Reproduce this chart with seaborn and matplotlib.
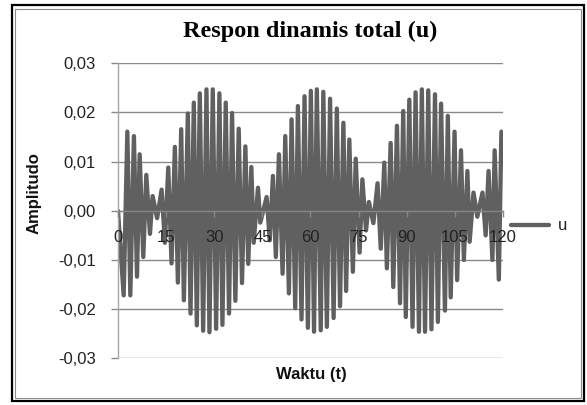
import numpy as np
import pandas as pd
import matplotlib
matplotlib.use("Agg")
import matplotlib.pyplot as plt
from matplotlib.patches import Rectangle
import seaborn as sns

# ---- data (extrema of the response) ----
t_ext = [0.0, 1.77, 2.91, 3.84, 4.96, 5.92, 6.75, 7.88, 8.82, 9.96,
         10.79, 12.2, 13.6, 14.62, 15.66, 16.69, 17.73, 18.66, 19.7, 20.53,
         21.77, 22.6, 23.63, 24.57, 25.5, 26.54, 27.57, 28.5, 29.54, 30.58,
         31.6, 32.55, 33.58, 34.6, 35.55, 36.58, 37.62, 38.65, 39.7, 40.6,
         41.56, 42.29, 43.63, 44.36, 46.32, 47.3, 48.29, 49.2, 50.16, 51.3,
         52.13, 53.27, 54.1, 55.24, 56.07, 57.2, 58.14, 59.18, 60.11, 61.1,
         61.97, 63.2, 64.0, 65.1, 66.1, 67.2, 68.2, 69.2, 70.25, 71.1,
         72.1, 73.2, 74.1, 75.3, 76.17, 77.3, 78.2, 79.6, 80.9, 81.9,
         83.0, 83.8, 84.98, 85.8, 86.95, 87.9, 88.9, 89.7, 90.8, 91.8,
         92.75, 93.8, 94.7, 95.7, 96.7, 97.7, 98.8, 99.7, 100.7, 101.9,
         102.8, 103.7, 104.9, 105.7, 106.9, 107.8, 108.9, 109.6, 110.8, 112.0,
         113.6, 114.6, 115.5, 116.7, 117.4, 118.7, 119.5]
u_ext = [0.0, -0.0172, 0.0161, -0.0172, 0.0152, -0.0134, 0.0115, -0.0094, 0.0073, -0.0047,
         0.0030, -0.0015, 0.0043, -0.0065, 0.0088, -0.0107, 0.0130, -0.0146, 0.0166, -0.0182,
         0.0198, -0.0209, 0.0220, -0.0233, 0.0239, -0.0244, 0.0247, -0.0247, 0.0247, -0.0240,
         0.0239, -0.0232, 0.0220, -0.0209, 0.0199, -0.0183, 0.0167, -0.0147, 0.0131, -0.0108,
         0.0089, -0.0065, 0.0047, -0.0024, 0.0028, -0.0060, 0.0071, -0.0094, 0.0115, -0.0128,
         0.0152, -0.0168, 0.0186, -0.0198, 0.0213, -0.0221, 0.0233, -0.0238, 0.0244, -0.0246,
         0.0247, -0.0243, 0.0242, -0.0236, 0.0228, -0.0218, 0.0208, -0.0194, 0.0179, -0.0163,
         0.0145, -0.0124, 0.0106, -0.0085, 0.0064, -0.0040, 0.0018, -0.0025, 0.0056, -0.0077,
         0.0098, -0.0117, 0.0138, -0.0155, 0.0173, -0.0188, 0.0203, -0.0216, 0.0226, -0.0236,
         0.0241, -0.0246, 0.0247, -0.0246, 0.0245, -0.0241, 0.0237, -0.0226, 0.0218, -0.0203,
         0.0193, -0.0176, 0.0161, -0.0141, 0.0123, -0.0100, 0.0081, -0.0063, 0.0037, -0.0012,
         0.0037, -0.0050, 0.0081, -0.0100, 0.0123, -0.0140, 0.0161]

x_ticks = [0, 15, 30, 45, 60, 75, 90, 105, 120]
y_ticks = [-0.03, -0.02, -0.01, 0.00, 0.01, 0.02, 0.03]
y_tick_labels = ["-0,03", "-0,02", "-0,01", "0,00", "0,01", "0,02", "0,03"]
series_name = "u"

assert len(t_ext) == len(u_ext)
df = pd.DataFrame({"Waktu (t)": t_ext, series_name: u_ext})

sns.set_theme(style="white")
plt.rcParams["font.family"] = ["Liberation Sans", "DejaVu Sans"]

W, H = 587, 405
fig = plt.figure(figsize=(W / 100, H / 100), dpi=100)
fig.patch.set_facecolor("white")

left, right, top, bottom = 118, 503, 63.3, 358.3
ax = fig.add_axes([left / W, 1 - bottom / H, (right - left) / W, (bottom - top) / H])

sns.lineplot(data=df, x="Waktu (t)", y=series_name, sort=False, estimator=None,
             ax=ax, color="#606060", linewidth=3.1, label=series_name)
for ln in ax.lines:
    ln.set_solid_joinstyle("round")
    ln.set_solid_capstyle("round")

ax.set_xlim(0, 120)
ax.set_ylim(-0.03, 0.03)
ax.set_yticks(y_ticks)
ax.set_yticklabels(y_tick_labels)
ax.set_xticks(x_ticks)
ax.set_xticklabels([str(v) for v in x_ticks])

ax.yaxis.grid(True, color="#8a8a8a", linewidth=1.0)
ax.xaxis.grid(False)
ax.set_axisbelow(True)
# Excel draws the category labels on top of the series
ax.xaxis.set_zorder(5)

for s in ["top", "right"]:
    ax.spines[s].set_visible(False)
ax.spines["left"].set_color("#a6a6a6")
ax.spines["left"].set_linewidth(1.0)
ax.spines["bottom"].set_position(("data", 0))
ax.spines["bottom"].set_color("#868686")
ax.spines["bottom"].set_linewidth(1.0)

ax.tick_params(axis="y", direction="out", length=5, width=1, color="#8a8a8a",
               pad=11, labelsize=12, labelcolor="#222222", left=True)
ax.tick_params(axis="x", direction="out", length=4, width=1, color="#868686",
               pad=10, labelsize=12, labelcolor="#222222", bottom=True)

ax.set_xlabel("")
ax.set_ylabel("")

fig.text(310 / W, 1 - 31 / H, "Respon dinamis total (u)", ha="center", va="center",
         fontsize=17.5, fontweight="bold", family=["Liberation Serif", "DejaVu Serif"],
         color="black")
fig.text(311 / W, 1 - 374 / H, "Waktu (t)", ha="center", va="center",
         fontsize=12, fontweight="bold", color="#111111")
fig.text(34 / W, 1 - 193 / H, "Amplitudo", ha="center", va="center", rotation=90,
         fontsize=12, fontweight="bold", color="#111111")

leg = ax.legend(loc="center left", bbox_to_anchor=(511 / W, 1 - 226 / H),
                bbox_transform=fig.transFigure, frameon=False, borderpad=0,
                borderaxespad=0, handlelength=2.3, handletextpad=0.5,
                fontsize=12)
for txt in leg.get_texts():
    txt.set_color("#222222")

# chart border (outer black, inner grey)
fig.patches.append(Rectangle((11.5 / W, 1 - 401 / H), (584 - 11.5) / W, (401 - 5) / H,
                             transform=fig.transFigure, fill=False,
                             edgecolor="black", linewidth=1.6, zorder=10))
fig.patches.append(Rectangle((15 / W, 1 - 397.5 / H), (580.5 - 15) / W, (397.5 - 8.5) / H,
                             transform=fig.transFigure, fill=False,
                             edgecolor="#8c8c8c", linewidth=0.8, zorder=10))

fig.savefig("out.png", dpi=100, facecolor="white")
